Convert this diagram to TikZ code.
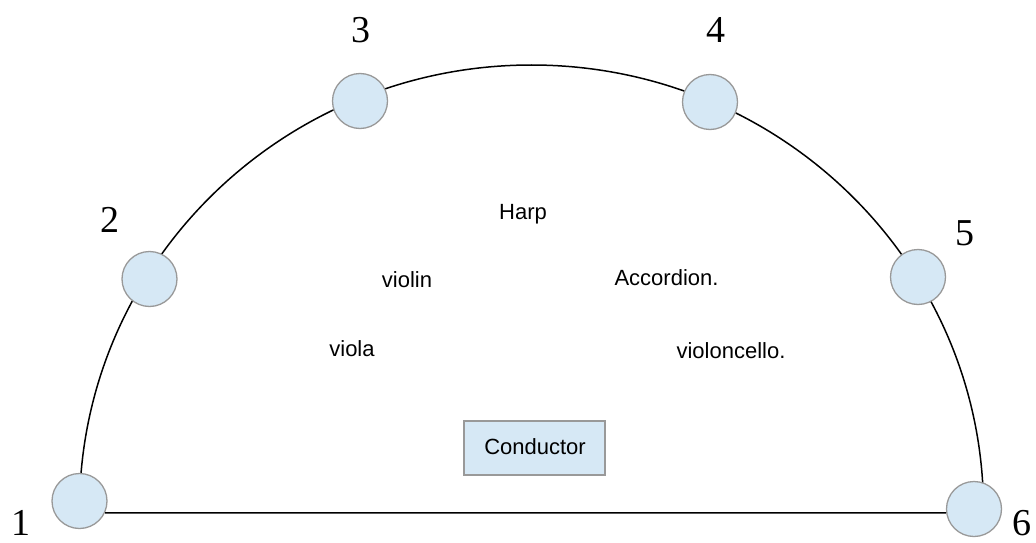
\documentclass[tikz,border=0pt]{standalone}
\usepackage{fontspec}
\setmainfont{Liberation Serif}
\setsansfont{Liberation Sans}
\begin{document}
\begin{tikzpicture}[x=1pt,y=1pt,
  seat/.style={circle,draw=black!40,line width=1.3pt,fill=seatblue,minimum size=55pt,inner sep=0pt},
  num/.style={font=\fontsize{38}{40}\selectfont,anchor=base,inner sep=0pt},
  instr/.style={font=\sffamily\fontsize{22}{24}\selectfont,anchor=base,inner sep=0pt},
  stage/.style={line width=1.5pt,draw=black}]
\definecolor{seatblue}{HTML}{D6E8F5}
\useasboundingbox (0,0) rectangle (1036,-543);
% arc (behind the seats)
\coordinate (ctr) at (531.5,-510);
\draw[stage] (ctr) ++(180:452 and 445) arc[start angle=180,end angle=0,x radius=452,y radius=445];
% seats
\node[seat] (c1) at (79.5,-501) {};
\node[seat] (c2) at (149.5,-279) {};
\node[seat] (c3) at (360,-101) {};
\node[seat] (c4) at (710,-102) {};
\node[seat] (c5) at (918,-277) {};
\node[seat] (c6) at (974,-509) {};
\draw[stage] (c1.-25) -- (c6.188);
% numbers
\node[num] (n1) at (21,-535) {1};
\node[num] (n2) at (110,-232) {2};
\node[num] (n3) at (361,-43) {3};
\node[num] (n4) at (716,-43) {4};
\node[num] (n5) at (965,-245) {5};
\node[num] (n6) at (1022,-535) {6};
% instruments
\node[instr] (harp) at (523,-219) {Harp};
\node[instr] (violin) at (407,-287) {violin};
\node[instr] (acc) at (666.5,-285) {Accordion.};
\node[instr] (viola) at (352,-356) {viola};
\node[instr] (vc) at (731,-358) {violoncello.};
% conductor
\draw[draw=black!40,line width=1.3pt,fill=seatblue] (464,-421) rectangle (605,-475);
\node[instr] (cond) at (535,-454) {Conductor};
\end{tikzpicture}
\end{document}
